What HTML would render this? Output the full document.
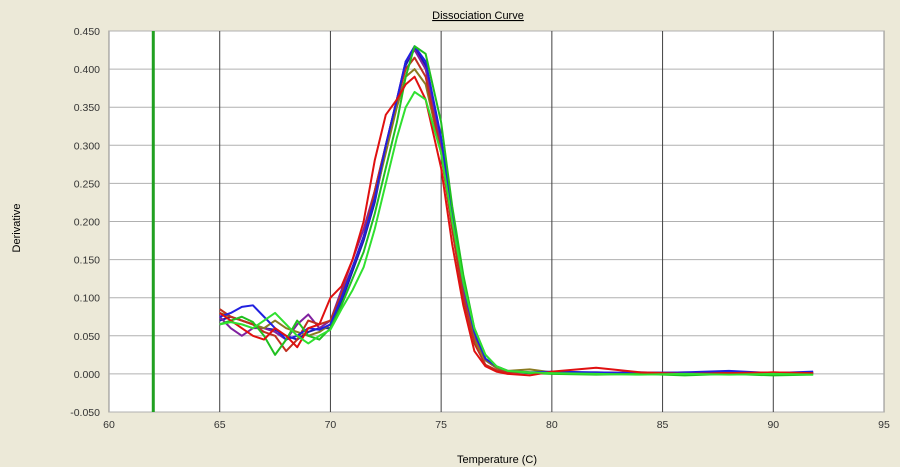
<!DOCTYPE html>
<html><head><meta charset="utf-8"><style>
body{margin:0;background:#ece9d8;font-family:"Liberation Sans",sans-serif;}
svg{display:block}
</style></head><body>
<svg width="900" height="467" id="c">
<rect width="900" height="467" fill="#ece9d8"/>
<text x="478" y="19" font-size="11" text-anchor="middle" text-decoration="underline" fill="#000">Dissociation Curve</text>
<text x="497" y="463" font-size="11" text-anchor="middle" fill="#000">Temperature (C)</text>
<text x="20" y="228" font-size="11" text-anchor="middle" fill="#000" transform="rotate(-90 20 228)">Derivative</text>
<rect x="109" y="31" width="775" height="381" fill="#fff" stroke="#888"/>
<g id="grid"></g><g id="series"></g><g id="ticks"></g>
</svg>
<script>
const xTicks=[60,65,70,75,80,85,90,95];
const yTicks=[-0.05,0,0.05,0.1,0.15,0.2,0.25,0.3,0.35,0.4,0.45];
const temps=[65,65.5,66,66.5,67,67.5,68,68.5,69,69.5,70,70.5,71,71.5,72,72.5,73,73.4,73.8,74.3,75,75.5,76,76.5,77,77.5,78,79,80,82,84,86,88,90,91.8];
const sBlue=[0.075,0.08,0.088,0.09,0.075,0.06,0.045,0.05,0.06,0.058,0.065,0.1,0.14,0.18,0.23,0.3,0.36,0.41,0.43,0.41,0.31,0.21,0.12,0.055,0.02,0.01,0.004,0.002,0.003,0.002,0.001,0.002,0.004,0.001,0.003];
const sNavy=[0.07,0.075,0.07,0.065,0.06,0.058,0.05,0.045,0.055,0.06,0.06,0.095,0.135,0.175,0.225,0.295,0.355,0.405,0.428,0.405,0.3,0.2,0.11,0.05,0.018,0.008,0.003,0.001,0.002,0.001,0.002,0.001,0.002,0.001,0.002];
const sRed=[0.08,0.07,0.06,0.05,0.045,0.06,0.05,0.035,0.06,0.065,0.1,0.115,0.15,0.2,0.28,0.34,0.36,0.38,0.39,0.36,0.27,0.17,0.09,0.03,0.01,0.003,0.0,-0.002,0.003,0.008,0.002,0.0,0.001,0.002,0.001];
const sRed2=[0.085,0.075,0.07,0.065,0.055,0.05,0.03,0.045,0.07,0.065,0.07,0.105,0.14,0.18,0.24,0.3,0.36,0.4,0.415,0.39,0.29,0.19,0.1,0.04,0.012,0.005,0.002,0.002,0.001,0.002,0.001,0.002,0.001,0.002,0.001];
const sPurple=[0.075,0.06,0.05,0.06,0.06,0.055,0.045,0.065,0.078,0.06,0.07,0.11,0.15,0.19,0.24,0.3,0.36,0.41,0.425,0.4,0.3,0.2,0.11,0.05,0.018,0.008,0.003,0.002,0.002,0.001,0.002,0.001,0.002,0.001,0.002];
const sGreen=[0.065,0.07,0.075,0.068,0.05,0.025,0.045,0.07,0.05,0.045,0.06,0.09,0.125,0.16,0.21,0.27,0.33,0.39,0.43,0.42,0.33,0.22,0.13,0.06,0.025,0.01,0.004,0.001,0.0,-0.001,0.0,-0.002,0.0,-0.002,-0.001];
const sLime=[0.065,0.068,0.065,0.06,0.07,0.08,0.065,0.05,0.04,0.05,0.058,0.085,0.11,0.14,0.19,0.25,0.31,0.35,0.37,0.36,0.29,0.2,0.12,0.06,0.025,0.01,0.004,0.002,0.001,0.0,-0.001,0.0,-0.001,0.0,-0.001];
const sOlive=[0.08,0.075,0.07,0.065,0.06,0.07,0.06,0.055,0.05,0.055,0.065,0.1,0.14,0.18,0.23,0.29,0.35,0.39,0.4,0.38,0.29,0.19,0.1,0.045,0.018,0.008,0.004,0.006,0.002,0.001,0.0,0.001,0.0,0.001,0.0];
const seriesList=[[sNavy,'#1a1ab0'],[sPurple,'#8020a0'],[sOlive,'#8a7a20'],[sRed2,'#c03020'],[sBlue,'#2020e0'],[sGreen,'#20c020'],[sRed,'#e01010'],[sLime,'#30e030']];
const X=v=>109+(v-60)*(775/35), Y=v=>412-(v+0.05)*(381/0.5);
const NS='http://www.w3.org/2000/svg';
const grid=document.getElementById('grid'),tk=document.getElementById('ticks'),sg=document.getElementById('series');
function mk(tag,a,p){const e=document.createElementNS(NS,tag);for(const k in a)e.setAttribute(k,a[k]);p.appendChild(e);return e;}
yTicks.forEach(v=>{const l=mk('line',{x1:109,x2:884,y1:Y(v),y2:Y(v),stroke:'#b0b0b0'},grid);


const t=mk('text',{x:100,y:Y(v)+4,'font-size':10.5,'text-anchor':'end',fill:'#333'},tk);t.textContent=v.toFixed(3);

});
xTicks.forEach(v=>{if(v>60&&v<95){const l=mk('line',{x1:X(v),x2:X(v),y1:31,y2:412,stroke:'#404040'},grid);

}
const t=mk('text',{x:X(v),y:428,'font-size':10.5,'text-anchor':'middle',fill:'#333'},tk);t.textContent=v;

});
const mark=mk('line',{x1:X(62),x2:X(62),y1:31,y2:412,stroke:'#20a020','stroke-width':3},grid);


seriesList.forEach(([d,c])=>{const p=mk('polyline',{points:temps.map((t,i)=>X(t)+','+Y(d[i])).join(' '),fill:'none',stroke:c,'stroke-width':2,'stroke-linejoin':'round'},sg);

});
</script>
</body></html>
